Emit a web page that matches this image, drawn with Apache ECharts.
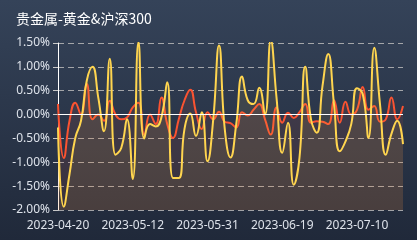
<!DOCTYPE html>
<html><head><meta charset="utf-8">
<script src="https://cdn.jsdelivr.net/npm/echarts@6/dist/echarts.min.js"></script>
<style>html,body{margin:0;padding:0;}#c{width:417px;height:240px;}</style>
</head><body><div id="c"></div>
<script>
const titleText = '贵金属-黄金&沪深300';
const dates = [
'2023-04-20','2023-04-21','2023-04-24','2023-04-25','2023-04-26','2023-04-27','2023-04-28',
'2023-05-04','2023-05-05','2023-05-08','2023-05-09','2023-05-10','2023-05-11','2023-05-12',
'2023-05-15','2023-05-16','2023-05-17','2023-05-18','2023-05-19','2023-05-22','2023-05-23',
'2023-05-24','2023-05-25','2023-05-26','2023-05-29','2023-05-30','2023-05-31',
'2023-06-01','2023-06-02','2023-06-05','2023-06-06','2023-06-07','2023-06-08','2023-06-09',
'2023-06-12','2023-06-13','2023-06-14','2023-06-15','2023-06-16','2023-06-19','2023-06-20',
'2023-06-21','2023-06-26','2023-06-27','2023-06-28','2023-06-29','2023-06-30',
'2023-07-03','2023-07-04','2023-07-05','2023-07-06','2023-07-07','2023-07-10','2023-07-11',
'2023-07-12','2023-07-13','2023-07-14','2023-07-17','2023-07-18','2023-07-19','2023-07-20'];
// 黄金 daily change (%)
const gold = [
-0.27,-1.93,-1.25,-0.49,-0.13,0.71,1.00,0.36,-0.35,1.17,-0.84,-0.70,
-0.10,-1.35,1.52,-0.50,-0.20,-0.25,-0.05,0.68,-1.33,-1.33,-0.30,0.02,
-0.45,0.05,-0.98,-0.10,1.45,-0.30,-0.90,-0.20,0.80,0.30,0.22,0.56,
0.00,1.56,0.36,-0.80,-0.17,-1.47,-0.90,1.00,-0.10,-0.38,0.60,1.27,
0.22,-0.77,-0.56,-0.20,0.55,0.43,-0.49,1.40,0.22,-0.84,-0.40,-0.13,-0.62];
// 沪深300 daily change (%)
const hs300 = [
0.22,-0.91,-0.13,0.25,0.00,0.64,-0.10,0.00,-0.13,0.29,0.00,-0.10,
-0.06,0.15,0.25,-0.42,0.00,-0.20,0.36,-0.20,-0.49,-0.10,0.30,0.52,
0.05,-0.30,0.05,-0.10,0.06,-0.15,-0.18,-0.27,0.05,-0.02,0.10,0.22,
-0.10,-0.42,0.15,-0.17,0.04,-0.07,0.05,0.22,-0.17,-0.14,-0.15,-0.20,
0.30,-0.17,0.27,0.00,0.10,0.58,0.10,0.18,-0.15,-0.10,0.36,-0.10,0.18];
const yMin = -2, yMax = 1.5, yStep = 0.5;

const chart = echarts.init(document.getElementById('c'), null, {renderer:'canvas'});
chart.setOption({
  backgroundColor: new echarts.graphic.LinearGradient(0,0,0,1,[
    {offset:0,color:'#354359'},{offset:1,color:'#20293a'}]),
  animation:false,
  title:{text:titleText,left:11,top:7,textStyle:{color:'#ffffff',fontSize:14,fontWeight:'normal',
    fontFamily:'Noto Sans CJK SC'}},
  grid:{left:58,right:14,top:43,bottom:30},
  xAxis:{type:'category',data:dates,boundaryGap:false,
    axisLine:{show:false},axisTick:{show:false},
    axisLabel:{color:'#dde2ea',fontSize:12,interval:12,margin:10,fontFamily:'Noto Sans'},
    splitLine:{show:false}},
  yAxis:{type:'value',min:yMin,max:yMax,interval:yStep,
    axisLine:{show:true,lineStyle:{color:'#ffffff',width:1}},
    axisTick:{show:true,length:5,lineStyle:{color:'#c8c8c8'}},
    axisLabel:{color:'#dde2ea',fontSize:12,margin:8,fontFamily:'Noto Sans',
      formatter:v=>v.toFixed(2)+'%'},
    splitLine:{show:true,lineStyle:{color:'#b8b8b8',type:[6,4],width:1,opacity:0.85}}},
  series:[
    {name:'黄金',type:'line',data:gold,smooth:true,showSymbol:false,symbol:'none',
     lineStyle:{color:'#ffd54f',width:2},itemStyle:{color:'#ffd54f'},
     areaStyle:{origin:'start',color:'rgba(255,214,80,0.13)'},z:3,
     markLine:{silent:true,symbol:'none',label:{show:false},
       data:[{yAxis:0,lineStyle:{color:'#ffffff',type:'solid',width:1.2}},
             {yAxis:1.542,lineStyle:{color:'#b8b8b8',type:[6,4],width:1,opacity:0.85}}]}},
    {name:'沪深300',type:'line',data:hs300,smooth:true,showSymbol:false,symbol:'none',
     lineStyle:{color:'#fa5331',width:2},itemStyle:{color:'#fa5331'},
     areaStyle:{origin:'start',color:'rgba(255,90,60,0.14)'},z:2}
  ]
});
</script></body></html>
